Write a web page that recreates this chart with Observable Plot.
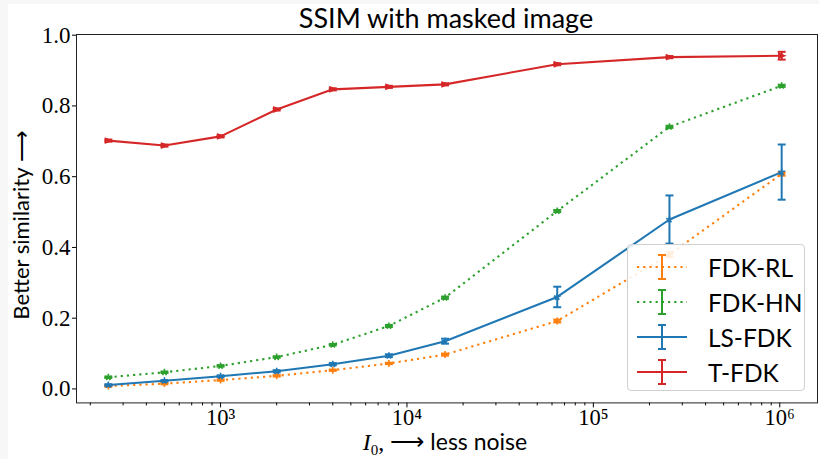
<!DOCTYPE html>
<html>
<head>
<meta charset="utf-8">
<script src="https://cdn.jsdelivr.net/npm/d3@7"></script>
<script src="https://cdn.jsdelivr.net/npm/@observablehq/plot@0.6"></script>
<style>
  html, body { margin: 0; padding: 0; background: #f7f7f7; width: 819px; height: 459px; overflow: hidden; }
  #page { position: absolute; left: 8px; top: 4px; width: 811px; height: 455px; background: #fff; }
  #title { position: absolute; left: 0; top: 0; width: 811px; height: 26px; }
  #title span { position: absolute; left: 438px; top: 13px; transform: translate(-50%, -50%); font-family: Lato, sans-serif; font-size: 27px; color: #000; white-space: nowrap; }
  #ylab { position: absolute; left: 12px; top: 221px; transform: translate(-50%, -50%) rotate(-90deg); font-family: Lato, sans-serif; font-size: 22px; white-space: nowrap; color: #000; }
  #chart { position: absolute; left: 24px; top: 26px; }
  #xlab { position: absolute; left: 437px; top: 437px; transform: translate(-50%, -50%); white-space: nowrap; font-size: 24px; color: #000; line-height: 18px; }
  #xlab .m { font-family: "Liberation Serif", serif; }
  #xlab .s { font-family: Lato, sans-serif; font-size: 23px; }
  #legend { position: absolute; left: 619px; top: 240px; width: 176px; height: 145px; border: 1px solid #d0d0d0; border-radius: 4px; background: rgba(255,255,255,0.85); }
  .row { position: absolute; left: 0; height: 30px; width: 176px; }
  .row svg { position: absolute; left: 8px; top: 0; }
  .row span { position: absolute; left: 80px; top: 15px; transform: translateY(-50%); font-family: Lato, sans-serif; font-size: 24.5px; color: #000; }
</style>
</head>
<body>
<div id="page">
  <div id="title"><span>SSIM with masked image</span></div>
  <div id="ylab">Better similarity ⟶</div>
  <div id="chart"></div>
  <div id="xlab"><span class="m"><i>I</i><sub style="font-size:15px;line-height:0">0</sub>, ⟶</span> <span class="s">less noise</span></div>
  <div id="legend"></div>
</div>
<script>
// ---- data ----
const intensities = [250, 500, 1000, 2000, 4000, 8000, 16000, 64000, 256000, 1024000];
const seriesNames = ["FDK-RL", "FDK-HN", "LS-FDK", "T-FDK"];
const fdkRL    = [0.008, 0.015, 0.025, 0.037, 0.053, 0.072, 0.097, 0.192, 0.380, 0.608];
const fdkRLErr = [0.002, 0.002, 0.002, 0.002, 0.002, 0.002, 0.003, 0.004, 0.006, 0.005];
const fdkHN    = [0.033, 0.047, 0.065, 0.090, 0.125, 0.178, 0.258, 0.503, 0.741, 0.857];
const fdkHNErr = [0.002, 0.002, 0.002, 0.002, 0.002, 0.003, 0.003, 0.003, 0.003, 0.003];
const lsFDK    = [0.011, 0.023, 0.036, 0.050, 0.070, 0.094, 0.135, 0.260, 0.479, 0.613];
const lsFDKErr = [0.002, 0.002, 0.002, 0.003, 0.003, 0.004, 0.007, 0.029, 0.068, 0.078];
const tFDK     = [0.702, 0.688, 0.714, 0.790, 0.847, 0.854, 0.861, 0.918, 0.938, 0.942];
const tFDKErr  = [0.003, 0.003, 0.003, 0.003, 0.003, 0.003, 0.003, 0.003, 0.003, 0.011];
const yTicks = [0, 0.2, 0.4, 0.6, 0.8, 1.0];
const yTickLabels = ["0.0", "0.2", "0.4", "0.6", "0.8", "1.0"];
const xTicks = [1e3, 1e4, 1e5, 1e6];
const xTickLabels = ["10³", "10⁴", "10⁵", "10⁶"];

const colors = {"FDK-RL": "#ff7f0e", "FDK-HN": "#2ca02c", "LS-FDK": "#1f77b4", "T-FDK": "#d62728"};
const dashes = {"FDK-RL": "2.2,4", "FDK-HN": "2.2,4", "LS-FDK": null, "T-FDK": null};

// symbols (stroke drawn)
const k = Math.sqrt(Math.PI);
const plusSym = {draw(c, s) { const r = Math.sqrt(s) / k; c.moveTo(-r, 0); c.lineTo(r, 0); c.moveTo(0, -r); c.lineTo(0, r); }};
const starSym = {draw(c, s) { const r = Math.sqrt(s) / k; for (let i = 0; i < 5; i++) { const a = -Math.PI/2 + i * 2*Math.PI/5; c.moveTo(0, 0); c.lineTo(r*Math.cos(a), r*Math.sin(a)); } }};
const triSym = {draw(c, s) { const r = Math.sqrt(s) / k; c.moveTo(-r, -r*0.8); c.lineTo(r, 0); c.lineTo(-r, r*0.8); c.closePath(); }};
const capSym = {draw(c, s) { const r = Math.sqrt(s) / k; c.moveTo(-r, 0); c.lineTo(r, 0); }};
const symbols = {"FDK-RL": plusSym, "FDK-HN": starSym, "LS-FDK": starSym, "T-FDK": triSym};
const symR = {"FDK-RL": 3.5, "FDK-HN": 3.5, "LS-FDK": 3.5, "T-FDK": 2.8};

const rows = [];
const vals = {"FDK-RL": [fdkRL, fdkRLErr], "FDK-HN": [fdkHN, fdkHNErr], "LS-FDK": [lsFDK, lsFDKErr], "T-FDK": [tFDK, tFDKErr]};
for (const name of seriesNames) {
  const [v, e] = vals[name];
  intensities.forEach((x, i) => rows.push({name, x, y: v[i], e: e[i]}));
}

const marks = [];
for (const name of seriesNames) {
  const d = rows.filter(r => r.name === name);
  const col = colors[name];
  marks.push(Plot.line(d, {x: "x", y: "y", stroke: col, strokeWidth: 2.1, strokeDasharray: dashes[name], strokeLinecap: "butt"}));
  marks.push(Plot.ruleX(d, {x: "x", y1: r => r.y - r.e, y2: r => r.y + r.e, stroke: col, strokeWidth: 2}));
  marks.push(Plot.dot(d, {x: "x", y: r => r.y + r.e, symbol: capSym, r: 4, stroke: col, strokeWidth: 2}));
  marks.push(Plot.dot(d, {x: "x", y: r => r.y - r.e, symbol: capSym, r: 4, stroke: col, strokeWidth: 2}));
  marks.push(Plot.dot(d, {x: "x", y: "y", symbol: symbols[name], r: symR[name], stroke: col, fill: name === "T-FDK" ? col : "none", strokeWidth: 1.6}));
}

const minor = [];
for (let p = 2; p <= 6; p++) for (let m = 1; m <= 9; m++) {
  const v = m * Math.pow(10, p);
  if (m !== 1 && v > 168 && v < 1.59e6) minor.push(v);
}

const chart = Plot.plot({
  width: 787,
  height: 420,
  marginLeft: 44,
  marginRight: 2,
  marginTop: 4,
  marginBottom: 47.6,
  x: {type: "log", domain: [168.7, 1.594e6], label: null},
  y: {domain: [-0.0395, 1.002], label: null},
  style: {background: "transparent", color: "#000", overflow: "visible"},
  marks: [
    Plot.axisX({ticks: minor, tickSize: 3, tickFormat: () => "", stroke: "#000", label: null}),
    Plot.axisX({ticks: xTicks, tickSize: 5, tickPadding: 1, tickFormat: (d) => xTickLabels[xTicks.indexOf(d)], fontFamily: "Liberation Serif, serif", fontSize: 22.5, label: null}),
    Plot.axisY({ticks: yTicks, tickSize: 4, tickPadding: 2, tickFormat: (d) => yTickLabels[yTicks.indexOf(d)], fontFamily: "Liberation Serif, serif", fontSize: 23, label: null}),
    ...marks,
    Plot.frame({stroke: "#222", strokeWidth: 1})
  ]
});
document.getElementById("chart").appendChild(chart);

// legend
const leg = document.getElementById("legend");
seriesNames.forEach((name, i) => {
  const row = document.createElement("div");
  row.className = "row";
  row.style.top = (7 + i * 35) + "px";
  const col = colors[name];
  const dash = dashes[name] ? `stroke-dasharray="${dashes[name]}"` : "";
  row.innerHTML = `<svg width="54" height="30"><line x1="1" y1="15" x2="51" y2="15" stroke="${col}" stroke-width="2.1" ${dash}/>
    <line x1="26" y1="3" x2="26" y2="27" stroke="${col}" stroke-width="2"/>
    <line x1="22" y1="3" x2="30" y2="3" stroke="${col}" stroke-width="2"/>
    <line x1="22" y1="27" x2="30" y2="27" stroke="${col}" stroke-width="2"/></svg><span>${name}</span>`;
  leg.appendChild(row);
});
</script>
</body>
</html>
